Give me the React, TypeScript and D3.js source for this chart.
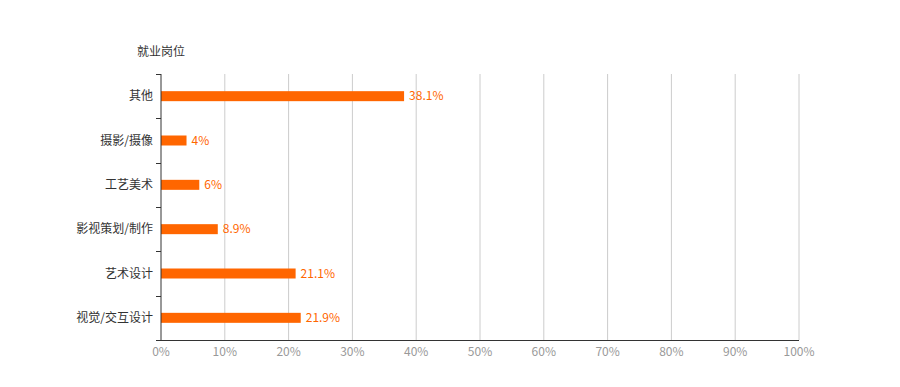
import React from "react";
import * as d3 from "d3";

const categories = ["其他", "摄影/摄像", "工艺美术", "影视策划/制作", "艺术设计", "视觉/交互设计"];
const values = [38.1, 4, 6, 8.9, 21.1, 21.9];
const xTicks = [0, 10, 20, 30, 40, 50, 60, 70, 80, 90, 100];
const axisName = "就业岗位";

const W = 900;
const H = 387;
const margin = { left: 161, right: 101, top: 74, bottom: 47 };
const FONT = "'Noto Sans CJK SC', 'Microsoft YaHei', sans-serif";

export default function App() {
  const x = d3.scaleLinear().domain([0, 100]).range([margin.left, W - margin.right]);
  const y = d3
    .scaleBand<string>()
    .domain(categories)
    .range([margin.top, H - margin.bottom]);
  const barH = 10;
  const bottom = H - margin.bottom;

  return (
    <svg
      width={W}
      height={H}
      style={{ position: "absolute", left: 0, top: 0, background: "#fff" }}
      fontFamily={FONT}
    >
      {/* vertical grid lines */}
      {xTicks.slice(1).map((t) => (
        <line key={t} x1={x(t)} x2={x(t)} y1={margin.top} y2={bottom} stroke="#ccc" strokeWidth={1} />
      ))}
      {/* bars */}
      {categories.map((c, i) => {
        const cy = (y(c) as number) + y.bandwidth() / 2;
        return (
          <g key={c}>
            <rect
              x={x(0)}
              y={cy - barH / 2}
              width={x(values[i]) - x(0)}
              height={barH}
              fill="#ff6600"
            />
            <text x={x(values[i]) + 5} y={cy} dy="0.35em" fontSize={12} fill="#ff6600">
              {values[i]}%
            </text>
            <text x={margin.left - 8} y={cy} dy="0.35em" fontSize={12} fill="#333" textAnchor="end">
              {c}
            </text>
          </g>
        );
      })}
      {/* category axis */}
      <line x1={margin.left} x2={margin.left} y1={margin.top} y2={bottom} stroke="#333" />
      {[...categories.map((c) => y(c) as number), bottom].map((v, i) => (
        <line key={i} x1={margin.left - 5} x2={margin.left} y1={Math.round(v) + 0.5} y2={Math.round(v) + 0.5} stroke="#333" />
      ))}
      {/* value axis */}
      <line x1={margin.left} x2={x(100)} y1={bottom + 0.5} y2={bottom + 0.5} stroke="#333" />
      {xTicks.map((t) => (
        <text key={t} x={x(t)} y={bottom + 12} dy="0.35em" fontSize={12} fill="#999" textAnchor="middle">
          {t}%
        </text>
      ))}
      <text x={margin.left} y={52} dy="0.35em" fontSize={12} fill="#333" textAnchor="middle">
        {axisName}
      </text>
    </svg>
  );
}
